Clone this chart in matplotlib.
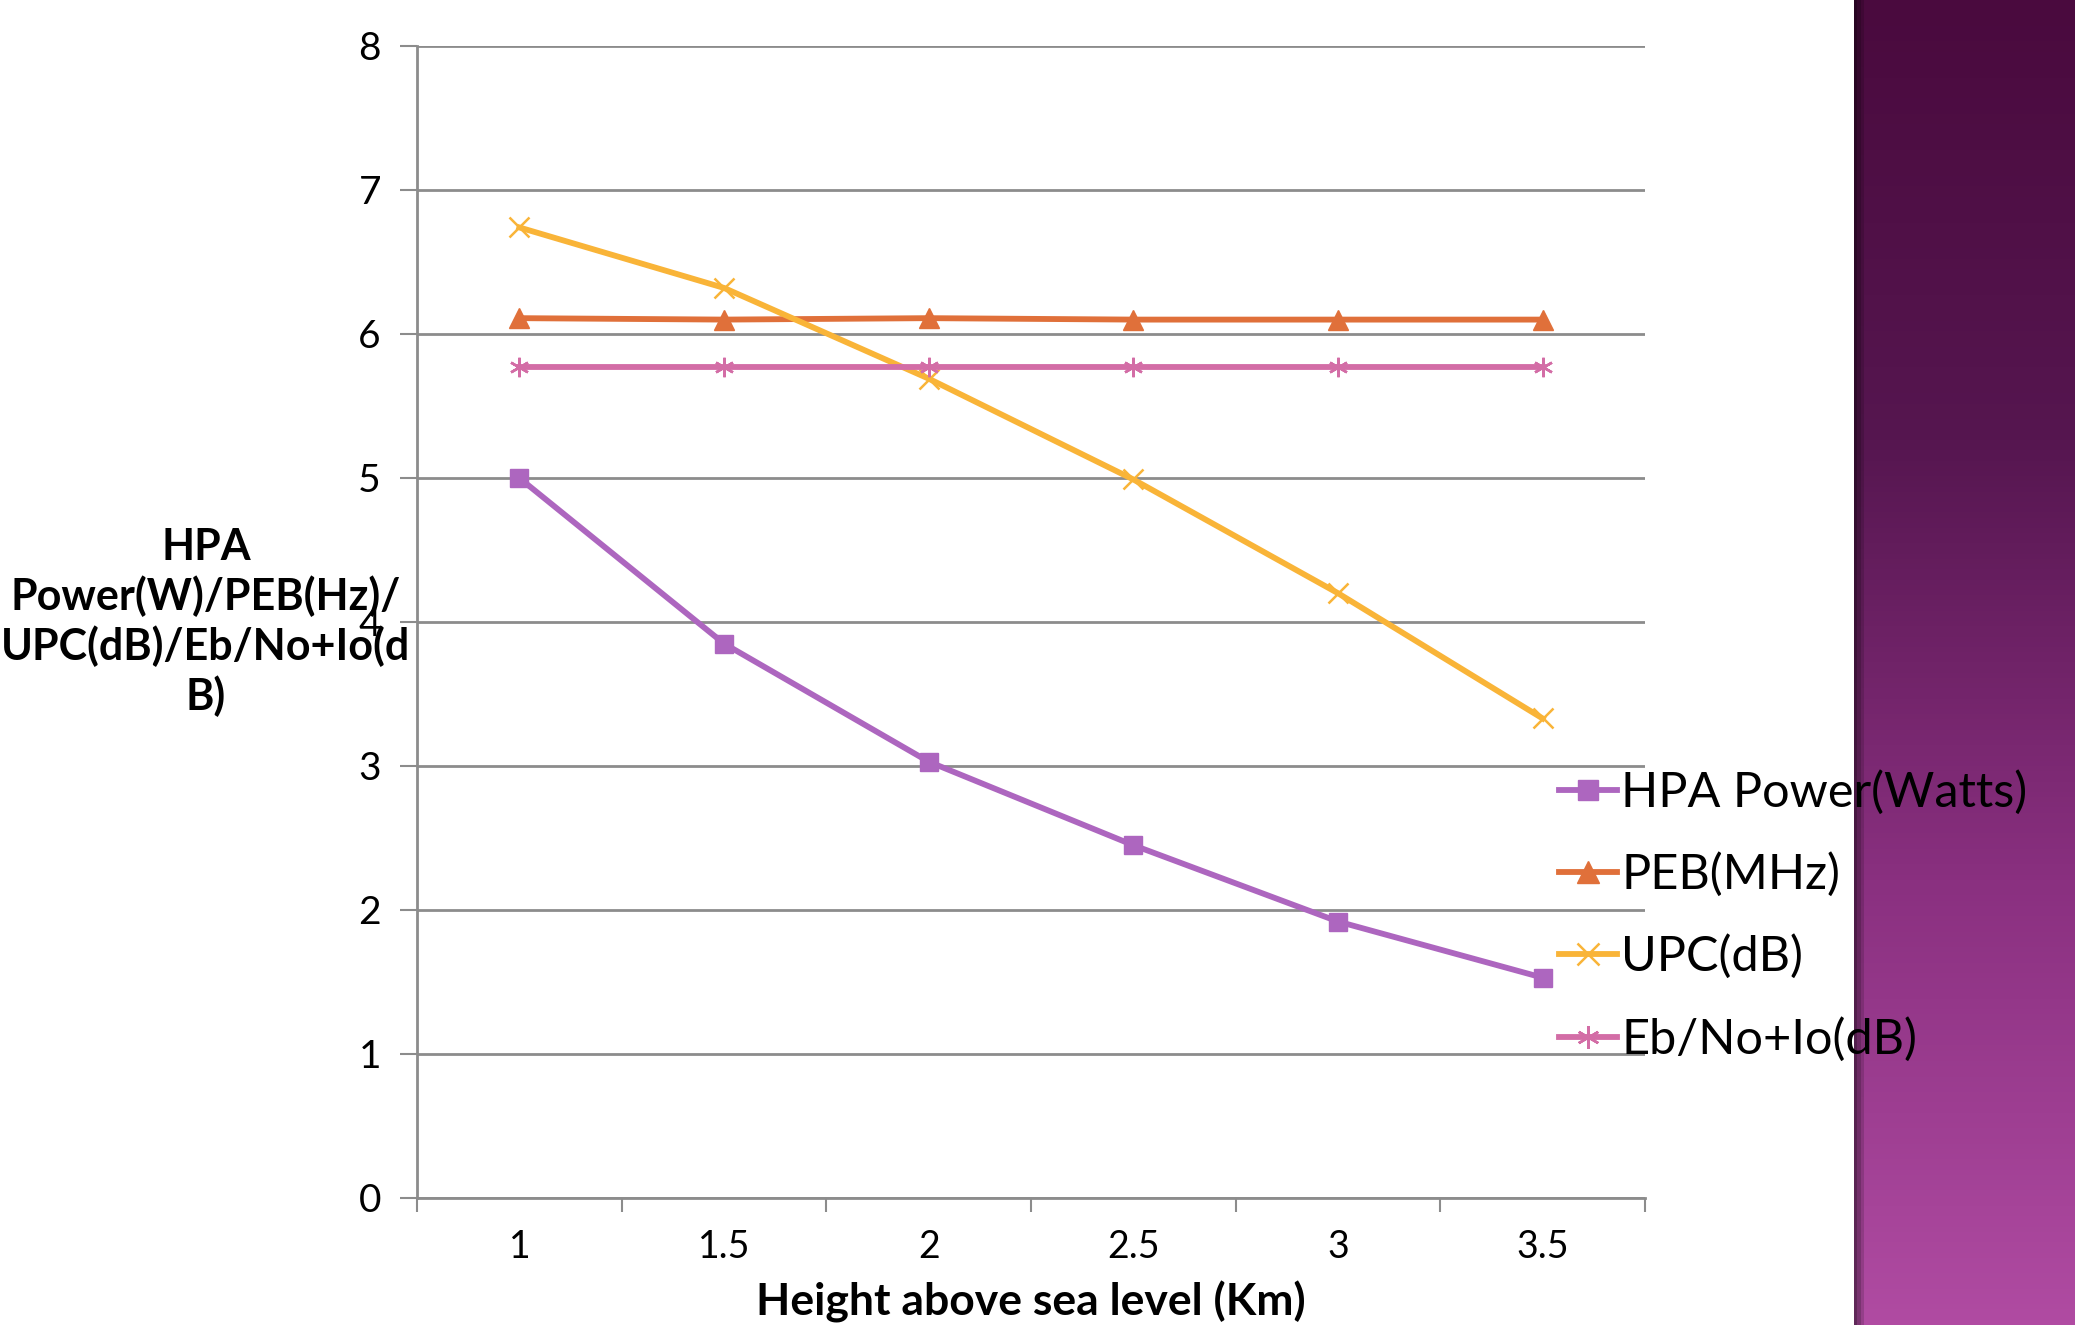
import numpy as np
import matplotlib.pyplot as plt
from matplotlib.colors import LinearSegmentedColormap

# Data
heights = ["1", "1.5", "2", "2.5", "3", "3.5"]
hpa_power = [5.0, 3.85, 3.03, 2.45, 1.92, 1.53]
peb = [6.11, 6.10, 6.11, 6.10, 6.10, 6.10]
upc = [6.74, 6.32, 5.69, 4.99, 4.20, 3.33]
ebno = [5.77, 5.77, 5.77, 5.77, 5.77, 5.77]

W, H = 2075, 1325
fig = plt.figure(figsize=(W / 100, H / 100), dpi=100)
plt.rcParams['font.family'] = ['Lato', 'DejaVu Sans']

# Decorative purple band on the right
band = fig.add_axes([1854 / W, 0, 1 - 1854 / W, 1], zorder=0)
cmap = LinearSegmentedColormap.from_list("band", ["#4a0a3e", "#561650", "#8a3080", "#b04ba2"])
grad = np.linspace(0, 1, 256)[:, None] * np.ones((1, 64))
shade = np.ones(64)
shade[:3] = [0.55, 0.7, 0.85]
img = cmap(grad)
img[:, :, :3] *= shade[None, :, None]
band.imshow(img, aspect="auto", extent=[0, 1, 1, 0])
band.axis("off")

ax = fig.add_axes([417 / W, 1 - 1198 / H, (1645 - 417) / W, (1198 - 46) / H], zorder=2)
x = np.arange(len(heights))

lw = 4.2
ax.plot(x, hpa_power, color="#ad66bf", lw=lw, marker="s", ms=13, label="HPA Power(Watts)", zorder=3)
ax.plot(x, peb, color="#e0703a", lw=lw, marker="^", ms=14, label="PEB(MHz)", zorder=3)
ax.plot(x, upc, color="#f9b438", lw=lw, marker="x", ms=14, mew=1.8, label="UPC(dB)", zorder=3)
ax.plot(x, ebno, color="#d36da6", lw=lw, marker=(6, 2, 0), ms=14, mew=1.8, label="Eb/No+Io(dB)", zorder=3)

ax.set_xlim(-0.5, len(heights) - 0.5)
ax.set_ylim(0, 8)
ax.set_yticks(range(0, 9))
ax.set_xticks(x)
ax.set_xticklabels(heights)
ax.set_xticks(np.arange(-0.5, len(heights), 1), minor=True)
ax.tick_params(axis="x", which="major", length=0, labelsize=27, pad=22)
ax.tick_params(axis="x", which="minor", length=10, width=1.5, color="#8c8c8c")
ax.tick_params(axis="y", length=12, width=1.5, color="#8c8c8c", labelsize=28, pad=14)

ax.grid(axis="y", color="#8c8c8c", lw=2)
ax.set_axisbelow(True)
for s in ["top", "right"]:
    ax.spines[s].set_visible(False)
for s in ["left", "bottom"]:
    ax.spines[s].set_color("#8c8c8c")
    ax.spines[s].set_linewidth(2)

ax.set_xlabel("Height above sea level (Km)", fontsize=32, fontweight="bold", labelpad=12)
fig.text(206 / W, 1 - 622 / H, "HPA\nPower(W)/PEB(Hz)/\nUPC(dB)/Eb/No+Io(d\nB)",
         ha="center", va="center", fontsize=31, fontweight="bold", linespacing=1.25, zorder=5)

leg = ax.legend(loc="upper left", frameon=False, fontsize=35, handlelength=1.2,
                handletextpad=0.08, labelspacing=0.77, borderaxespad=0, borderpad=0,
                markerscale=1.15)
leg.set_bbox_to_anchor((1559 / W, 1 - 770 / H), transform=fig.transFigure)
leg.set_zorder(10)

fig.savefig("out.png", dpi=100)
